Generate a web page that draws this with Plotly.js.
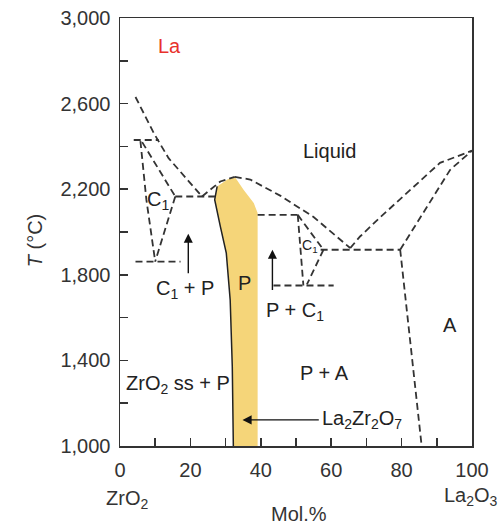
<!DOCTYPE html>
<html>
<head>
<meta charset="utf-8">
<script src="https://cdn.plot.ly/plotly-3.0.1.min.js"></script>
<style>
html,body{margin:0;padding:0;background:#fff;}
#chart{width:499px;height:528px;}
</style>
</head>
<body>
<div id="chart"></div>
<script>
// ---- axis ticks ----
const xTickVals = [0, 10, 20, 30, 40, 50, 60, 70, 80, 90, 100];
const xTickText = ['0', '', '20', '', '40', '', '60', '', '80', '', '100'];
const yTickVals = [1000, 1200, 1400, 1600, 1800, 2000, 2200, 2400, 2600, 2800, 3000];
const yTickText = ['1,000', '', '1,400', '', '1,800', '', '2,200', '', '2,600', '', '3,000'];

// ---- single-phase P (La2Zr2O7 pyrochlore) field ----
const pPhaseX = [32.2, 31.9, 31.3, 30.2, 28.5, 26.9, 27.6, 30.5, 32.6, 35.1, 38.0, 39.1, 39.1, 32.2];
const pPhaseT = [1000, 1370, 1683, 1901, 2026, 2151, 2213, 2245, 2258, 2198, 2135, 2089, 1000, 1000];
const pLeftEdgeX = [32.2, 31.9, 31.3, 30.2, 28.5, 26.9, 27.6];
const pLeftEdgeT = [1000, 1370, 1683, 1901, 2026, 2151, 2213];

// ---- dashed phase boundaries (mol.% La2O3, T in °C) ----
const zrLiquidusX = [4.4, 9.6, 13.8, 23.3];
const zrLiquidusT = [2631, 2462, 2345, 2166];
const tcLineX = [3.9, 11.0];
const tcLineT = [2430, 2430];
const c1SteepX = [5.8, 7.5, 10.0];
const c1SteepT = [2425, 2150, 1862];
const c1UpperX = [6.3, 15.7];
const c1UpperT = [2420, 2166];
const c1LowerX = [15.7, 10.0];
const c1LowerT = [2166, 1862];
const eutecticLeftX = [15.7, 27.0];
const eutecticLeftT = [2166, 2166];
const eutectoidLeftX = [4.4, 17.2];
const eutectoidLeftT = [1862, 1862];
const pLiquidusLeftX = [23.3, 28.5, 32.6];
const pLiquidusLeftT = [2166, 2236, 2258];
const pLiquidusRightX = [32.6, 37.0, 45.5, 55.0, 65.4];
const pLiquidusRightT = [2258, 2245, 2170, 2070, 1925];
const peritecticX = [39.1, 50.5];
const peritecticT = [2080, 2080];
const c1RightUpperX = [50.5, 57.8];
const c1RightUpperT = [2080, 1917];
const c1RightSteepX = [50.5, 52.1];
const c1RightSteepT = [2080, 1750];
const c1RightLowerX = [57.8, 53.1];
const c1RightLowerT = [1917, 1755];
const eutecticRightX = [57.0, 79.6];
const eutecticRightT = [1917, 1917];
const eutectoidRightX = [43.6, 60.7];
const eutectoidRightT = [1750, 1750];
const laLiquidusX = [65.4, 68.2, 74.0, 82.4, 90.9, 100];
const laLiquidusT = [1925, 1979, 2070, 2198, 2323, 2380];
const laSolidusX = [79.6, 87.2, 93.8, 100];
const laSolidusT = [1917, 2120, 2291, 2380];
const aBoundaryX = [79.6, 85.7];
const aBoundaryT = [1917, 1000];

// ---- labels ----
const labelTexts = ['Liquid', 'C<sub>1</sub>', 'P', 'C<sub>1</sub> + P', 'P + C<sub>1</sub>', 'A', 'P + A', 'ZrO<sub>2</sub> ss + P', 'La<sub>2</sub>Zr<sub>2</sub>O<sub>7</sub>'];
const labelX = [59.4, 10.9, 35.3, 18.6, 49.8, 93.8, 58.0, 16.6, 68.8];
const labelT = [2380, 2146, 1762, 1730, 1627, 1566, 1342, 1287, 1123];

// ---- arrows: tail and head positions ----
const arrowTailX = [19.4, 43.3, 56.9];
const arrowTailT = [1800, 1722, 1122];
const arrowHeadX = [19.4, 43.3, 34.8];
const arrowHeadT = [1992, 1917, 1122];

const dashStyle = {color: '#333', width: 1.8, dash: '7px,4px'};
function dashed(x, y) {
  return {x: x, y: y, type: 'scatter', mode: 'lines', line: dashStyle, hoverinfo: 'skip', showlegend: false};
}

const traces = [
  {x: pPhaseX, y: pPhaseT, type: 'scatter', mode: 'lines', fill: 'toself', fillcolor: '#f5d579',
   line: {width: 0}, hoverinfo: 'skip', showlegend: false},
  {x: pLeftEdgeX, y: pLeftEdgeT, type: 'scatter', mode: 'lines', line: {color: '#222', width: 1.5},
   hoverinfo: 'skip', showlegend: false},
  dashed(zrLiquidusX, zrLiquidusT),
  dashed(tcLineX, tcLineT),
  dashed(c1SteepX, c1SteepT),
  dashed(c1UpperX, c1UpperT),
  dashed(c1LowerX, c1LowerT),
  dashed(eutecticLeftX, eutecticLeftT),
  dashed(eutectoidLeftX, eutectoidLeftT),
  dashed(pLiquidusLeftX, pLiquidusLeftT),
  dashed(pLiquidusRightX, pLiquidusRightT),
  dashed(peritecticX, peritecticT),
  dashed(c1RightUpperX, c1RightUpperT),
  dashed(c1RightSteepX, c1RightSteepT),
  dashed(c1RightLowerX, c1RightLowerT),
  dashed(eutecticRightX, eutecticRightT),
  dashed(eutectoidRightX, eutectoidRightT),
  dashed(laLiquidusX, laLiquidusT),
  dashed(laSolidusX, laSolidusT),
  dashed(aBoundaryX, aBoundaryT)
];

const fontFam = 'Liberation Sans, Arial, sans-serif';
const annotations = [];
labelTexts.forEach((t, i) => {
  annotations.push({x: labelX[i], y: labelT[i], xref: 'x', yref: 'y', text: t, showarrow: false,
    font: {family: fontFam, size: 20, color: '#222'}, xanchor: 'center', yanchor: 'middle'});
});
// small C1 on the right
annotations.push({x: 54.0, y: 1936, xref: 'x', yref: 'y', text: 'C<sub>1</sub>', showarrow: false,
  font: {family: fontFam, size: 14, color: '#222'}, xanchor: 'center', yanchor: 'middle'});
// red "La"
annotations.push({x: 14.0, y: 2867, xref: 'x', yref: 'y', text: 'La', showarrow: false,
  font: {family: fontFam, size: 20, color: '#e8312b'}, xanchor: 'center', yanchor: 'middle'});
arrowTailX.forEach((tx, i) => {
  annotations.push({x: arrowHeadX[i], y: arrowHeadT[i], ax: tx, ay: arrowTailT[i], xref: 'x', yref: 'y',
    axref: 'x', ayref: 'y', text: '', showarrow: true, arrowhead: 2, arrowsize: 1.3, arrowwidth: 1.4, arrowcolor: '#111'});
});
// outside labels
const outside = {xref: 'paper', yref: 'paper', showarrow: false, xanchor: 'center', yanchor: 'middle'};
annotations.push(Object.assign({}, outside, {x: 0.02, y: -0.124, text: 'ZrO<sub>2</sub>',
  font: {family: fontFam, size: 20, color: '#333'}}));
annotations.push(Object.assign({}, outside, {x: 0.997, y: -0.119, text: 'La<sub>2</sub>O<sub>3</sub>',
  font: {family: fontFam, size: 20, color: '#333'}}));
annotations.push(Object.assign({}, outside, {x: 0.509, y: -0.159, text: 'Mol.%',
  font: {family: fontFam, size: 20, color: '#333'}}));
annotations.push(Object.assign({}, outside, {x: -0.241, y: 0.481, text: '<i>T</i> (°C)', textangle: -90,
  font: {family: fontFam, size: 20, color: '#333'}}));

const layout = {
  width: 499, height: 528,
  margin: {l: 120, r: 27, t: 18, b: 82, pad: 0},
  paper_bgcolor: '#fff', plot_bgcolor: '#fff',
  showlegend: false,
  xaxis: {range: [0, 100], tickmode: 'array', tickvals: xTickVals, ticktext: xTickText,
    ticks: 'inside', ticklen: 8, tickwidth: 1.5, tickcolor: '#333',
    showline: true, linecolor: '#333', linewidth: 1.5, mirror: true, showgrid: false, zeroline: false,
    tickfont: {family: fontFam, size: 20, color: '#333'}, ticklabelstandoff: 5},
  yaxis: {range: [1000, 3000], tickmode: 'array', tickvals: yTickVals, ticktext: yTickText,
    ticks: 'inside', ticklen: 8, tickwidth: 1.5, tickcolor: '#333',
    showline: true, linecolor: '#333', linewidth: 1.5, mirror: true, showgrid: false, zeroline: false,
    tickfont: {family: fontFam, size: 20, color: '#333'}, ticklabelstandoff: 4},
  annotations: annotations
};

Plotly.newPlot('chart', traces, layout, {staticPlot: true, displayModeBar: false});
</script>
</body>
</html>
